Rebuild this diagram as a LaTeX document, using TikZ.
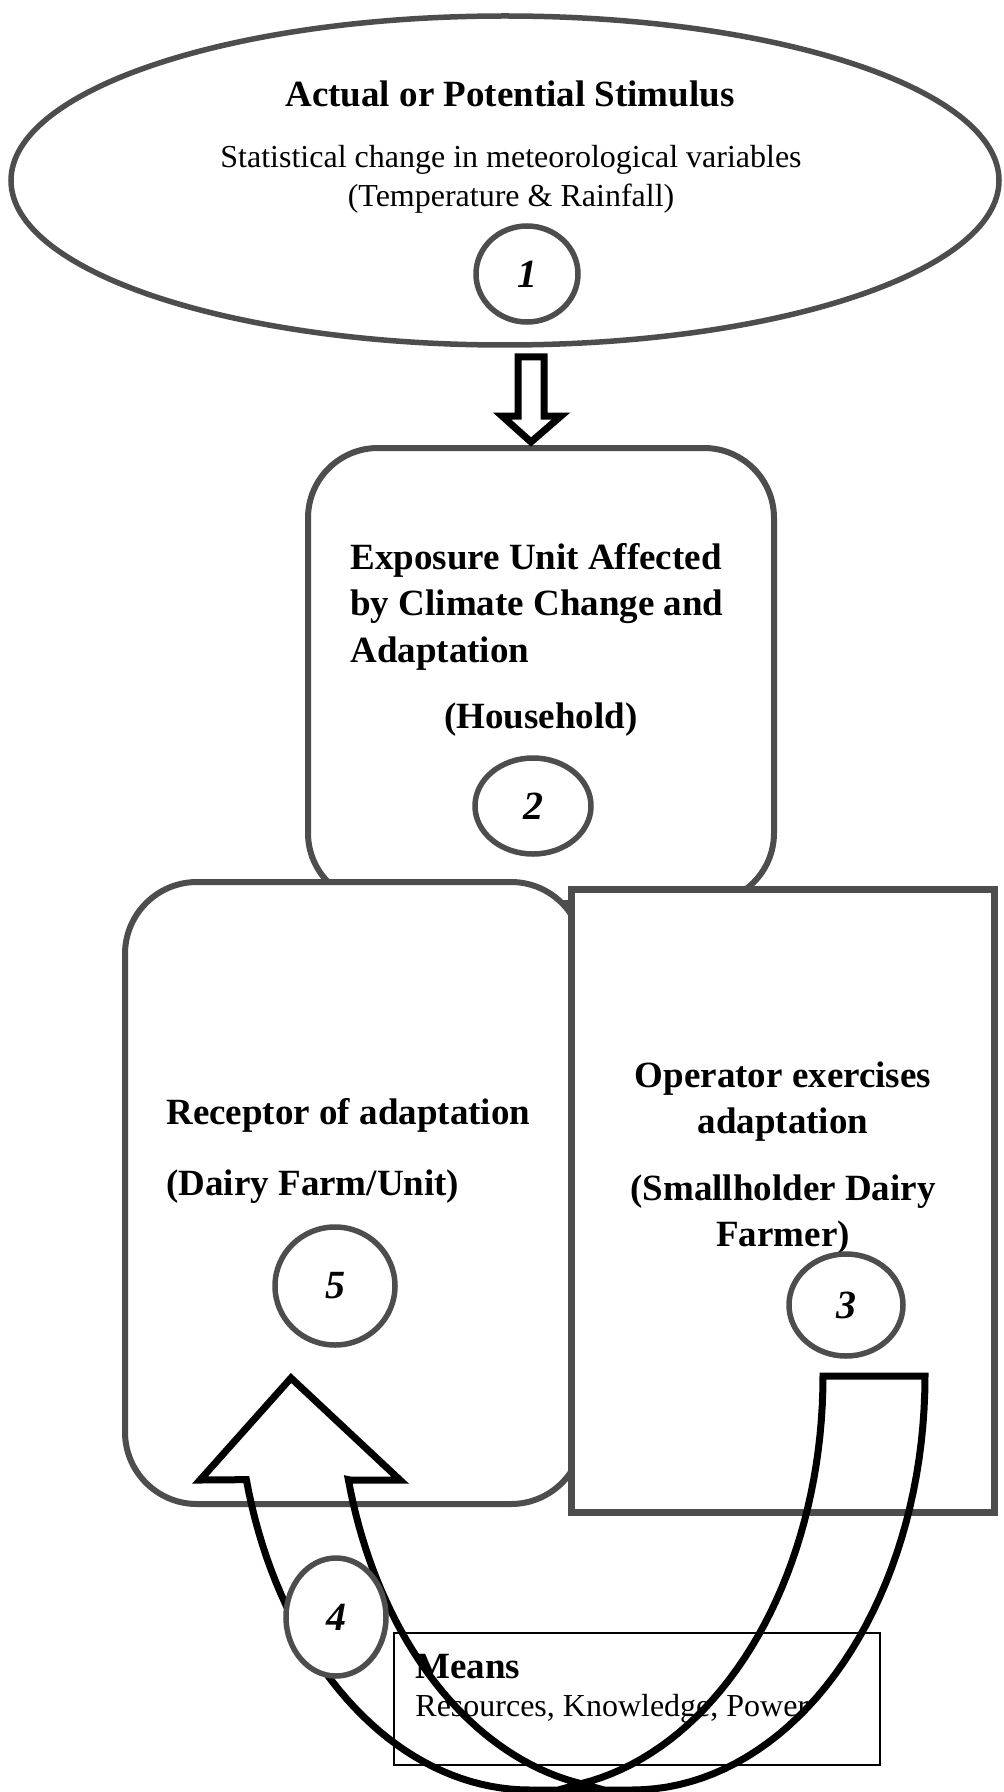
\documentclass[tikz,border=0pt]{standalone}
\usepackage{fontspec}
\setmainfont{Liberation Serif}
\usetikzlibrary{shapes.geometric}
\definecolor{gc}{RGB}{77,77,77}
\begin{document}
\begin{tikzpicture}[x=0.5pt,y=-0.5pt,
  bigtxt/.style={font=\fontsize{18.5}{22}\selectfont\bfseries, inner sep=0pt},
  regtxt/.style={font=\fontsize{16}{19}\selectfont, inner sep=0pt},
  numel/.style={ellipse, draw=gc, line width=2.75pt, fill=white, inner sep=0pt, font=\fontsize{20}{24}\selectfont\bfseries\itshape},
  rbox/.style={draw=gc, line width=3pt, fill=white, inner sep=0pt},
  blockarrow/.style={draw=black, line width=3.5pt, miter limit=10},
]
\useasboundingbox (0,0) rectangle (1004,1792);
\fill[white] (0,0) rectangle (1004,1792);

% stimulus ellipse
\node[ellipse, draw=gc, line width=2.75pt, fill=white, minimum width=494pt, minimum height=164.5pt] (stim) at (505,180.5) {};
\node[bigtxt, anchor=base] (stimt) at (510,107) {Actual or Potential Stimulus};
\node[regtxt, anchor=base] (stims1) at (511,168) {Statistical change in meteorological variables};
\node[regtxt, anchor=base] (stims2) at (511,207) {(Temperature \& Rainfall)};
\node[numel, minimum width=51pt, minimum height=48pt] (n1) at (527,274) {1};

% exposure unit box
\node[rbox, rounded corners=35pt, minimum width=233pt, minimum height=227.5pt] (b2) at (541,675.5) {};
\node[bigtxt, anchor=base west] (b2a) at (350,569) {Exposure Unit Affected};
\node[bigtxt, anchor=base west] (b2b) at (350,615) {by Climate Change and};
\node[bigtxt, anchor=base west] (b2c) at (350,662) {Adaptation};
\node[bigtxt, anchor=base] (b2d) at (541,728) {(Household)};
\node[numel, minimum width=58pt, minimum height=48pt] (n2) at (533,806) {2};

% down block arrow
\draw[blockarrow, fill=white] (518,357) -- (544,357) -- (544,416) -- (561,416) -- (531,442) -- (502,416) -- (518,416) -- cycle;

% receptor box
\node[rbox, rounded corners=36pt, minimum width=229pt, minimum height=311pt] (b5) at (354,1193) {};
\node[bigtxt, anchor=base west] (b5a) at (166,1124) {Receptor of adaptation};
\node[bigtxt, anchor=base west] (b5b) at (166,1195) {(Dairy Farm/Unit)};
\node[numel, minimum width=60pt, minimum height=59pt] (n5) at (335,1286) {5};

% operator box
\node[draw=gc, line width=3.5pt, fill=white, inner sep=0pt, minimum width=211.5pt, minimum height=311.5pt] (b3) at (782.5,1200.5) {};
\node[bigtxt, anchor=base] (b3a) at (783,1087) {Operator exercises};
\node[bigtxt, anchor=base] (b3b) at (783,1133) {adaptation};
\node[bigtxt, anchor=base] (b3c) at (783,1200) {(Smallholder Dairy};
\node[bigtxt, anchor=base] (b3d) at (783,1246) {Farmer)};
\node[numel, minimum width=57pt, minimum height=51pt] (n3) at (846,1305) {3};

% means box
\node[draw=black, line width=1pt, inner sep=0pt, minimum width=243pt, minimum height=66pt] (mb) at (637,1699) {};
\node[bigtxt, anchor=base west] (mt) at (415,1678) {Means};
\node[regtxt, anchor=base west] (mr) at (415,1716) {Resources, Knowledge, Power};

% curved up block arrow
\draw[blockarrow] (291,1378) -- (400,1480) -- (350,1480)
  -- plot[domain=165.5:100, samples=40, variable=\t] ({632+293*cos(\t)},{1376+414*sin(\t)})
  -- plot[domain=80:0, samples=40, variable=\t] ({530+293*cos(\t)},{1376+414*sin(\t)})
  -- (925,1376)
  -- plot[domain=0:90, samples=40, variable=\t] ({632+293*cos(\t)},{1376+414*sin(\t)})
  -- plot[domain=90:165.5, samples=40, variable=\t] ({530+293*cos(\t)},{1376+414*sin(\t)})
  -- (200,1480) -- cycle;

\node[numel, minimum width=50pt, minimum height=59pt] (n4) at (336,1617) {4};
\end{tikzpicture}
\end{document}
